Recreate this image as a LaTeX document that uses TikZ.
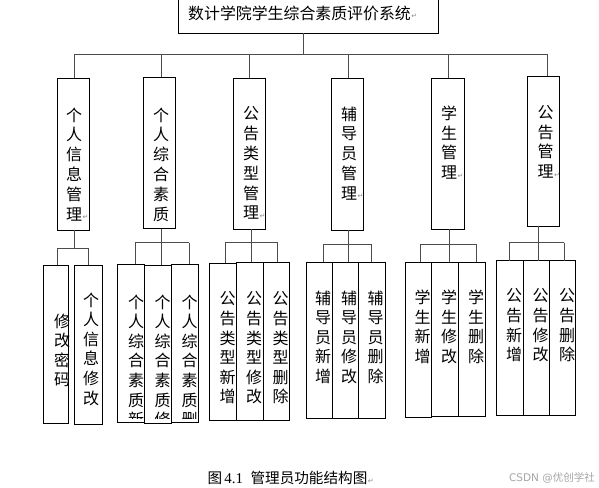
\documentclass[tikz,border=0pt]{standalone}
\usepackage{fontspec}
\usetikzlibrary{fit}
\newfontfamily\cjk{Noto Sans CJK SC}
\newfontfamily\dvs{DejaVu Sans}
\newfontfamily\lser{Liberation Serif}
\definecolor{markgray}{gray}{0.55}
\definecolor{linegray}{gray}{0.3}
\definecolor{wmgray}{gray}{0.65}
\newcommand\retmark{\rlap{\kern0.6pt\raisebox{0.5pt}{\fontsize{7}{7}\selectfont\dvs\color{markgray}↵}}}
\begin{document}
\begin{tikzpicture}[x=1pt,y=-1pt,
  box/.style={draw=black, line width=0.8pt, inner sep=0pt, outer sep=0pt},
  conn/.style={draw=linegray, line width=1pt},
  vtA/.style={align=center, inner sep=0pt, anchor=north, font=\cjk\fontsize{16}{19.8}\selectfont},
  vtB/.style={align=center, inner sep=0pt, anchor=north, font=\cjk\fontsize{16}{19.6}\selectfont}]
\fill[white] (0,0) rectangle (599,487);
\useasboundingbox (0,0) rectangle (599,487);

% root
\node[box, fit={(178.3,-3) (438,33.3)}] (root) {};
\node[anchor=west, inner sep=0pt, font=\cjk\fontsize{15.9}{18}\selectfont] (roott) at (188,13) {数计学院学生综合素质评价系统\retmark};

% level 1 boxes
\node[box, fit={(57.3,78.3) (89.3,230)}] (A) {};
\node[box, fit={(143.3,77.3) (175.3,228.7)}] (B) {};
\node[box, fit={(233.3,78.3) (265.3,229.3)}] (C) {};
\node[box, fit={(331.3,78.3) (363.3,230)}] (D) {};
\node[box, fit={(431.3,78.3) (464.3,229.3)}] (E) {};
\node[box, fit={(527.3,76.3) (559.3,226.3)}] (F) {};
\node[vtA] (At) at (74,107.5) {个\\人\\信\\息\\管\\理\retmark};
\node[vtA] (Bt) at (161,107.5) {个\\人\\综\\合\\素\\质};
\node[vtA] (Ct) at (251,106.5) {公\\告\\类\\型\\管\\理\retmark};
\node[vtA] (Dt) at (349,106.5) {辅\\导\\员\\管\\理\retmark};
\node[vtA] (Et) at (449,105.5) {学\\生\\管\\理\retmark};
\node[vtA] (Ft) at (545.5,105) {公\\告\\管\\理\retmark};

% top bus
\coordinate (rs) at (303.3,54.3);
\coordinate (sA) at (74,54.3);
\coordinate (sB) at (161,54.3);
\coordinate (sC) at (249.7,54.3);
\coordinate (sD) at (348,54.3);
\coordinate (sE) at (448.7,54.3);
\coordinate (sF) at (547.3,54.3);
\draw[conn] (rs |- root.south) -- (rs);
\draw[conn] (sA) -- (sF);
\foreach \s/\b in {sA/A,sB/B,sC/C,sD/D,sE/E,sF/F}
  \draw[conn] (\s) -- (\s |- \b.north);

% level 2 boxes
\node[box, fit={(43.3,265) (68.3,423.3)}] (a1) {};
\node[box, fit={(74,265) (102.3,424.3)}] (a2) {};
\node[box, fit={(117.3,264) (144,422.3)}] (b1) {};
\node[box, fit={(144.3,265) (171.3,423.3)}] (b2) {};
\node[box, fit={(171.3,264) (198.7,422.3)}] (b3) {};
\node[box, fit={(209.7,263.3) (236.7,420.7)}] (c1) {};
\node[box, fit={(236.7,262.3) (263.3,420.7)}] (c2) {};
\node[box, fit={(263.3,262.3) (289.3,420.7)}] (c3) {};
\node[box, fit={(306,262.3) (332.3,418.3)}] (d1) {};
\node[box, fit={(332.3,262.3) (358.7,418.3)}] (d2) {};
\node[box, fit={(358.7,262.3) (385.7,418.3)}] (d3) {};
\node[box, fit={(405.3,262.3) (431.7,417.3)}] (e1) {};
\node[box, fit={(431.7,262.3) (458.3,416)}] (e2) {};
\node[box, fit={(458.3,262.3) (485.3,416)}] (e3) {};
\node[box, fit={(496.7,260.7) (523.3,415)}] (f1) {};
\node[box, fit={(523.3,260.7) (549.7,415)}] (f2) {};
\node[box, fit={(549.7,260.7) (575.3,415)}] (f3) {};

% level 2 texts
\node[vtB] (a1t) at (62,313.5) {修\\改\\密\\码};
\node[vtB] (a2t) at (91,292.5) {个\\人\\信\\息\\修\\改};
\begin{scope}
\clip (117,250) rectangle (200,418);
\node[vtB] (b1t) at (136,294.5) {个\\人\\综\\合\\素\\质\\新\\增};
\node[vtB] (b2t) at (162.5,294.5) {个\\人\\综\\合\\素\\质\\修\\改};
\node[vtB] (b3t) at (189.5,294.5) {个\\人\\综\\合\\素\\质\\删\\除};
\end{scope}
\node[vtB] (c1t) at (227.5,291.5) {公\\告\\类\\型\\新\\增};
\node[vtB] (c2t) at (254,291.5) {公\\告\\类\\型\\修\\改};
\node[vtB] (c3t) at (280.5,291.5) {公\\告\\类\\型\\删\\除};
\node[vtB] (d1t) at (323,290.5) {辅\\导\\员\\新\\增};
\node[vtB] (d2t) at (349,290.5) {辅\\导\\员\\修\\改};
\node[vtB] (d3t) at (375.5,290.5) {辅\\导\\员\\删\\除};
\node[vtB] (e1t) at (422.5,290) {学\\生\\新\\增};
\node[vtB] (e2t) at (449,290) {学\\生\\修\\改};
\node[vtB] (e3t) at (476,290) {学\\生\\删\\除};
\node[vtB] (f1t) at (514,288.5) {公\\告\\新\\增};
\node[vtB] (f2t) at (540.5,288.5) {公\\告\\修\\改};
\node[vtB] (f3t) at (567,288.5) {公\\告\\删\\除};

% group buses
\coordinate (gA) at (74,248.3);
\coordinate (a1d) at (57.3,248.3);
\coordinate (a2d) at (88,248.3);
\coordinate (gB) at (161,242.7);
\coordinate (b1d) at (135,242.7);
\coordinate (b2d) at (161.7,242.7);
\coordinate (b3d) at (189,242.7);
\coordinate (gC) at (251.7,242.3);
\coordinate (c1d) at (225.7,242.3);
\coordinate (c2d) at (251.7,242.3);
\coordinate (c3d) at (277.7,242.3);
\coordinate (gD) at (348.3,244.3);
\coordinate (d1d) at (323.3,244.3);
\coordinate (d2d) at (348.3,244.3);
\coordinate (d3d) at (371,244.3);
\coordinate (gE) at (449.3,244);
\coordinate (e1d) at (420,244);
\coordinate (e2d) at (449.3,244);
\coordinate (e3d) at (476.7,244);
\coordinate (gF) at (538.3,242.7);
\coordinate (f1d) at (509.3,242.7);
\coordinate (f2d) at (538.3,242.7);
\coordinate (f3d) at (564,242.7);
\foreach \g/\b in {gA/A,gB/B,gC/C,gD/D,gE/E,gF/F}
  \draw[conn] (\g |- \b.south) -- (\g);
\draw[conn] (a1d) -- (a2d);
\draw[conn] (b1d) -- (b3d);
\draw[conn] (c1d) -- (c3d);
\draw[conn] (d1d) -- (d3d);
\draw[conn] (e1d) -- (e3d);
\draw[conn] (f1d) -- (f3d);
\foreach \d/\b in {a1d/a1,a2d/a2,b1d/b1,b2d/b2,b3d/b3,c1d/c1,c2d/c2,c3d/c3,d1d/d1,d2d/d2,d3d/d3,e1d/e1,e2d/e2,e3d/e3,f1d/f1,f2d/f2,f3d/f3}
  \draw[conn] (\d) -- (\d |- \b.north);

% caption and watermark
\node[anchor=west, inner sep=0pt, font=\cjk\fontsize{14.6}{16}\selectfont] (cap) at (207.5,478)
  {图\hspace{2pt}{\lser\fontsize{15}{16}\selectfont 4.1}\hspace{7.5pt}管理员功能结构图\retmark};
\node[anchor=east, inner sep=0pt, text=wmgray, font=\fontsize{10.5}{12}\selectfont] (wm) at (595,478)
  {{\dvs CSDN @}{\cjk 优创学社}};
\end{tikzpicture}
\end{document}
